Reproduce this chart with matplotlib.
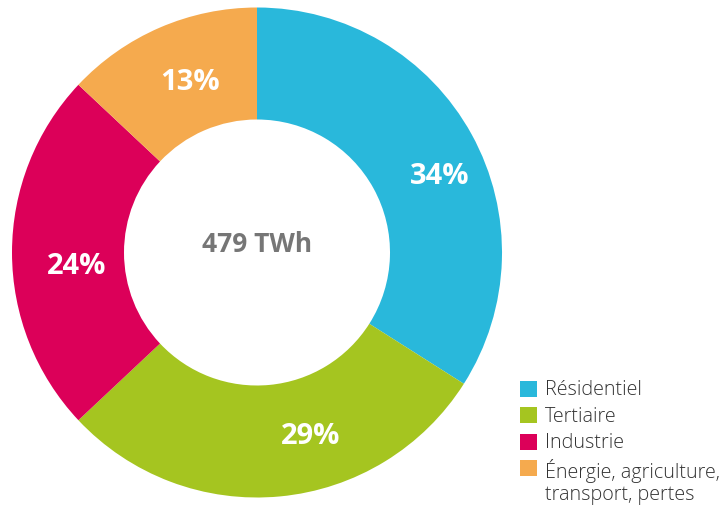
import numpy as np
import matplotlib.pyplot as plt
from matplotlib.patches import Rectangle

# Données
categories = ["Résidentiel", "Tertiaire", "Industrie", "Énergie, agriculture,\ntransport, pertes"]
parts = [34, 29, 24, 13]
total_label = "479 TWh"
colors = ["#29B8DB", "#A5C520", "#DC0059", "#F5AA4E"]
label_shift = [-6, 11, 4, -2]  # décalage angulaire des étiquettes (degrés)
label_r = [0.81, 0.78, 0.74, 0.75]

plt.rcParams['font.family'] = ['Open Sans', 'DejaVu Sans']

fig = plt.figure(figsize=(7.26, 5.06), dpi=100)
W, H = 726, 506
cx, cy, r = 257, 506 - 253.5, 245
ax = fig.add_axes([(cx - r) / W, (cy - r) / H, 2 * r / W, 2 * r / H])

wedges, _ = ax.pie(parts, colors=colors, startangle=90, counterclock=False,
                   radius=1.0, wedgeprops=dict(width=1 - 133 / 245, linewidth=0))
ax.set_aspect('equal')
ax.set_xlim(-1, 1)
ax.set_ylim(-1, 1)
ax.axis('off')

# étiquettes en pourcentage
cum = 0
for p, sh, rr in zip(parts, label_shift, label_r):
    mid = 90 - (cum + p / 2) / sum(parts) * 360 + sh
    cum += p
    ax.text(rr * np.cos(np.radians(mid)), rr * np.sin(np.radians(mid)), f"{p}%",
            ha='center', va='center', color='white', fontsize=21, fontweight='bold')

ax.text(0, 0.035, total_label, ha='center', va='center', color='#767676',
        fontsize=19, fontweight='bold')

# légende manuelle (coordonnées pixels de la figure)
for i, (lab, c) in enumerate(zip(categories, colors)):
    y = 506 - (390 + i * 26.3)
    fig.patches.append(Rectangle((520 / W, (y - 8) / H), 17 / W, 16 / H,
                                 transform=fig.transFigure, facecolor=c,
                                 edgecolor='none'))
    fig.text(545 / W, (y + 9.5) / H, lab, ha='left', va='top', fontsize=14.2,
             fontweight='light', color='#333333', linespacing=1.12)

fig.savefig("out.png", dpi=100)
